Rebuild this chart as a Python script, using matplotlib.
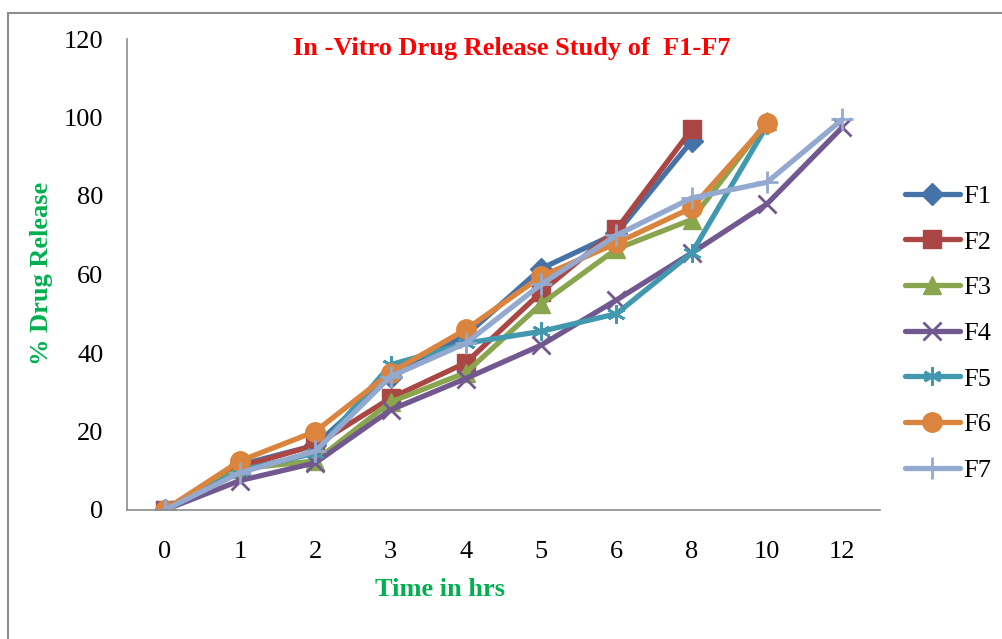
import numpy as np
import matplotlib.pyplot as plt
from matplotlib.lines import Line2D

# time points (shown as evenly spaced categories)
times = ['0', '1', '2', '3', '4', '5', '6', '8', '10', '12']

F1 = [0, 11.5, 16.5, 34.0, 44.5, 61.5, 70.5, 94.0, None, None]
F2 = [0, 11.0, 16.5, 28.5, 37.5, 55.5, 71.5, 97.0, None, None]
F3 = [0, 10.5, 12.5, 27.5, 35.0, 52.5, 66.5, 74.0, 99.0, None]
F4 = [0, 7.5, 12.0, 25.5, 33.5, 42.0, 53.5, 65.5, 78.0, 97.5]
F5 = [0, 10.0, 14.5, 37.0, 42.5, 45.5, 50.0, 65.5, 98.0, None]
F6 = [0, 12.5, 20.0, 35.0, 46.0, 59.5, 68.0, 77.0, 98.5, None]
F7 = [0, 9.5, 15.0, 34.0, 42.5, 57.5, 70.0, 79.5, 83.5, 99.5]

names = ['F1', 'F2', 'F3', 'F4', 'F5', 'F6', 'F7']
series = [F1, F2, F3, F4, F5, F6, F7]
colors = ['#4572A7', '#AA4643', '#89A54E', '#71588F', '#4198AF', '#DB843D', '#93A9CF']
markers = ['D', 's', '^', 'x', (6, 2, 0), 'o', '+']
msizes = [11, 13, 13, 13, 13, 14, 16]

plt.rcParams['font.family'] = ['Liberation Serif', 'DejaVu Serif']

fig = plt.figure(figsize=(10.03, 6.39), dpi=100)
ax = fig.add_axes([127/1003, 1 - 510/639, (880 - 127)/1003, (510 - 39)/639])

x = np.arange(len(times))
for name, vals, c, m, ms in zip(names, series, colors, markers, msizes):
    y = np.array([np.nan if v is None else v for v in vals], dtype=float)
    thin = m in ('x', '+') or isinstance(m, tuple)
    ax.plot(x, y, color=c, lw=3.8, marker=m, markersize=ms,
            markeredgewidth=2 if thin else 1,
            markeredgecolor=c, markerfacecolor=c, label=name, solid_capstyle='round')

ax.set_xlim(-0.5, len(times) - 0.5)
ax.set_ylim(0, 120)
ax.set_xticks(x)
ax.set_xticklabels(times)
ax.set_yticks(np.arange(0, 121, 20))
ax.tick_params(axis='y', labelsize=19, length=0, pad=17)
ax.tick_params(axis='x', labelsize=19, length=0, pad=22)
for s in ['top', 'right']:
    ax.spines[s].set_visible(False)
for s in ['left', 'bottom']:
    ax.spines[s].set_color('#8c8c8c')
    ax.spines[s].set_linewidth(1.2)

fig.text(512/1003, 1 - 48/639, 'In -Vitro Drug Release Study of  F1-F7', color='#FF0000',
         fontsize=19, fontweight='bold', ha='center', va='center')
fig.text(42/1003, 1 - 273/639, '% Drug Release', color='#00B050', fontsize=19,
         fontweight='bold', rotation=90, ha='center', va='center')
fig.text(440/1003, 1 - 589/639, 'Time in hrs', color='#00B050', fontsize=19,
         fontweight='bold', ha='center', va='center')

fig.legend(loc='upper left', bbox_to_anchor=(894/1003, 1 - 174/639), frameon=False,
           fontsize=19, labelspacing=0.84, handlelength=2.1, handletextpad=0.12,
           borderaxespad=0)

# outer chart border
fig.add_artist(Line2D([8.5/1003, 8.5/1003], [0, 1 - 13/639], color='#8c8c8c', lw=1.5,
                      transform=fig.transFigure))
fig.add_artist(Line2D([8.5/1003, 1], [1 - 13/639, 1 - 13/639], color='#8c8c8c', lw=1.5,
                      transform=fig.transFigure))

fig.savefig('out.png', dpi=100)
